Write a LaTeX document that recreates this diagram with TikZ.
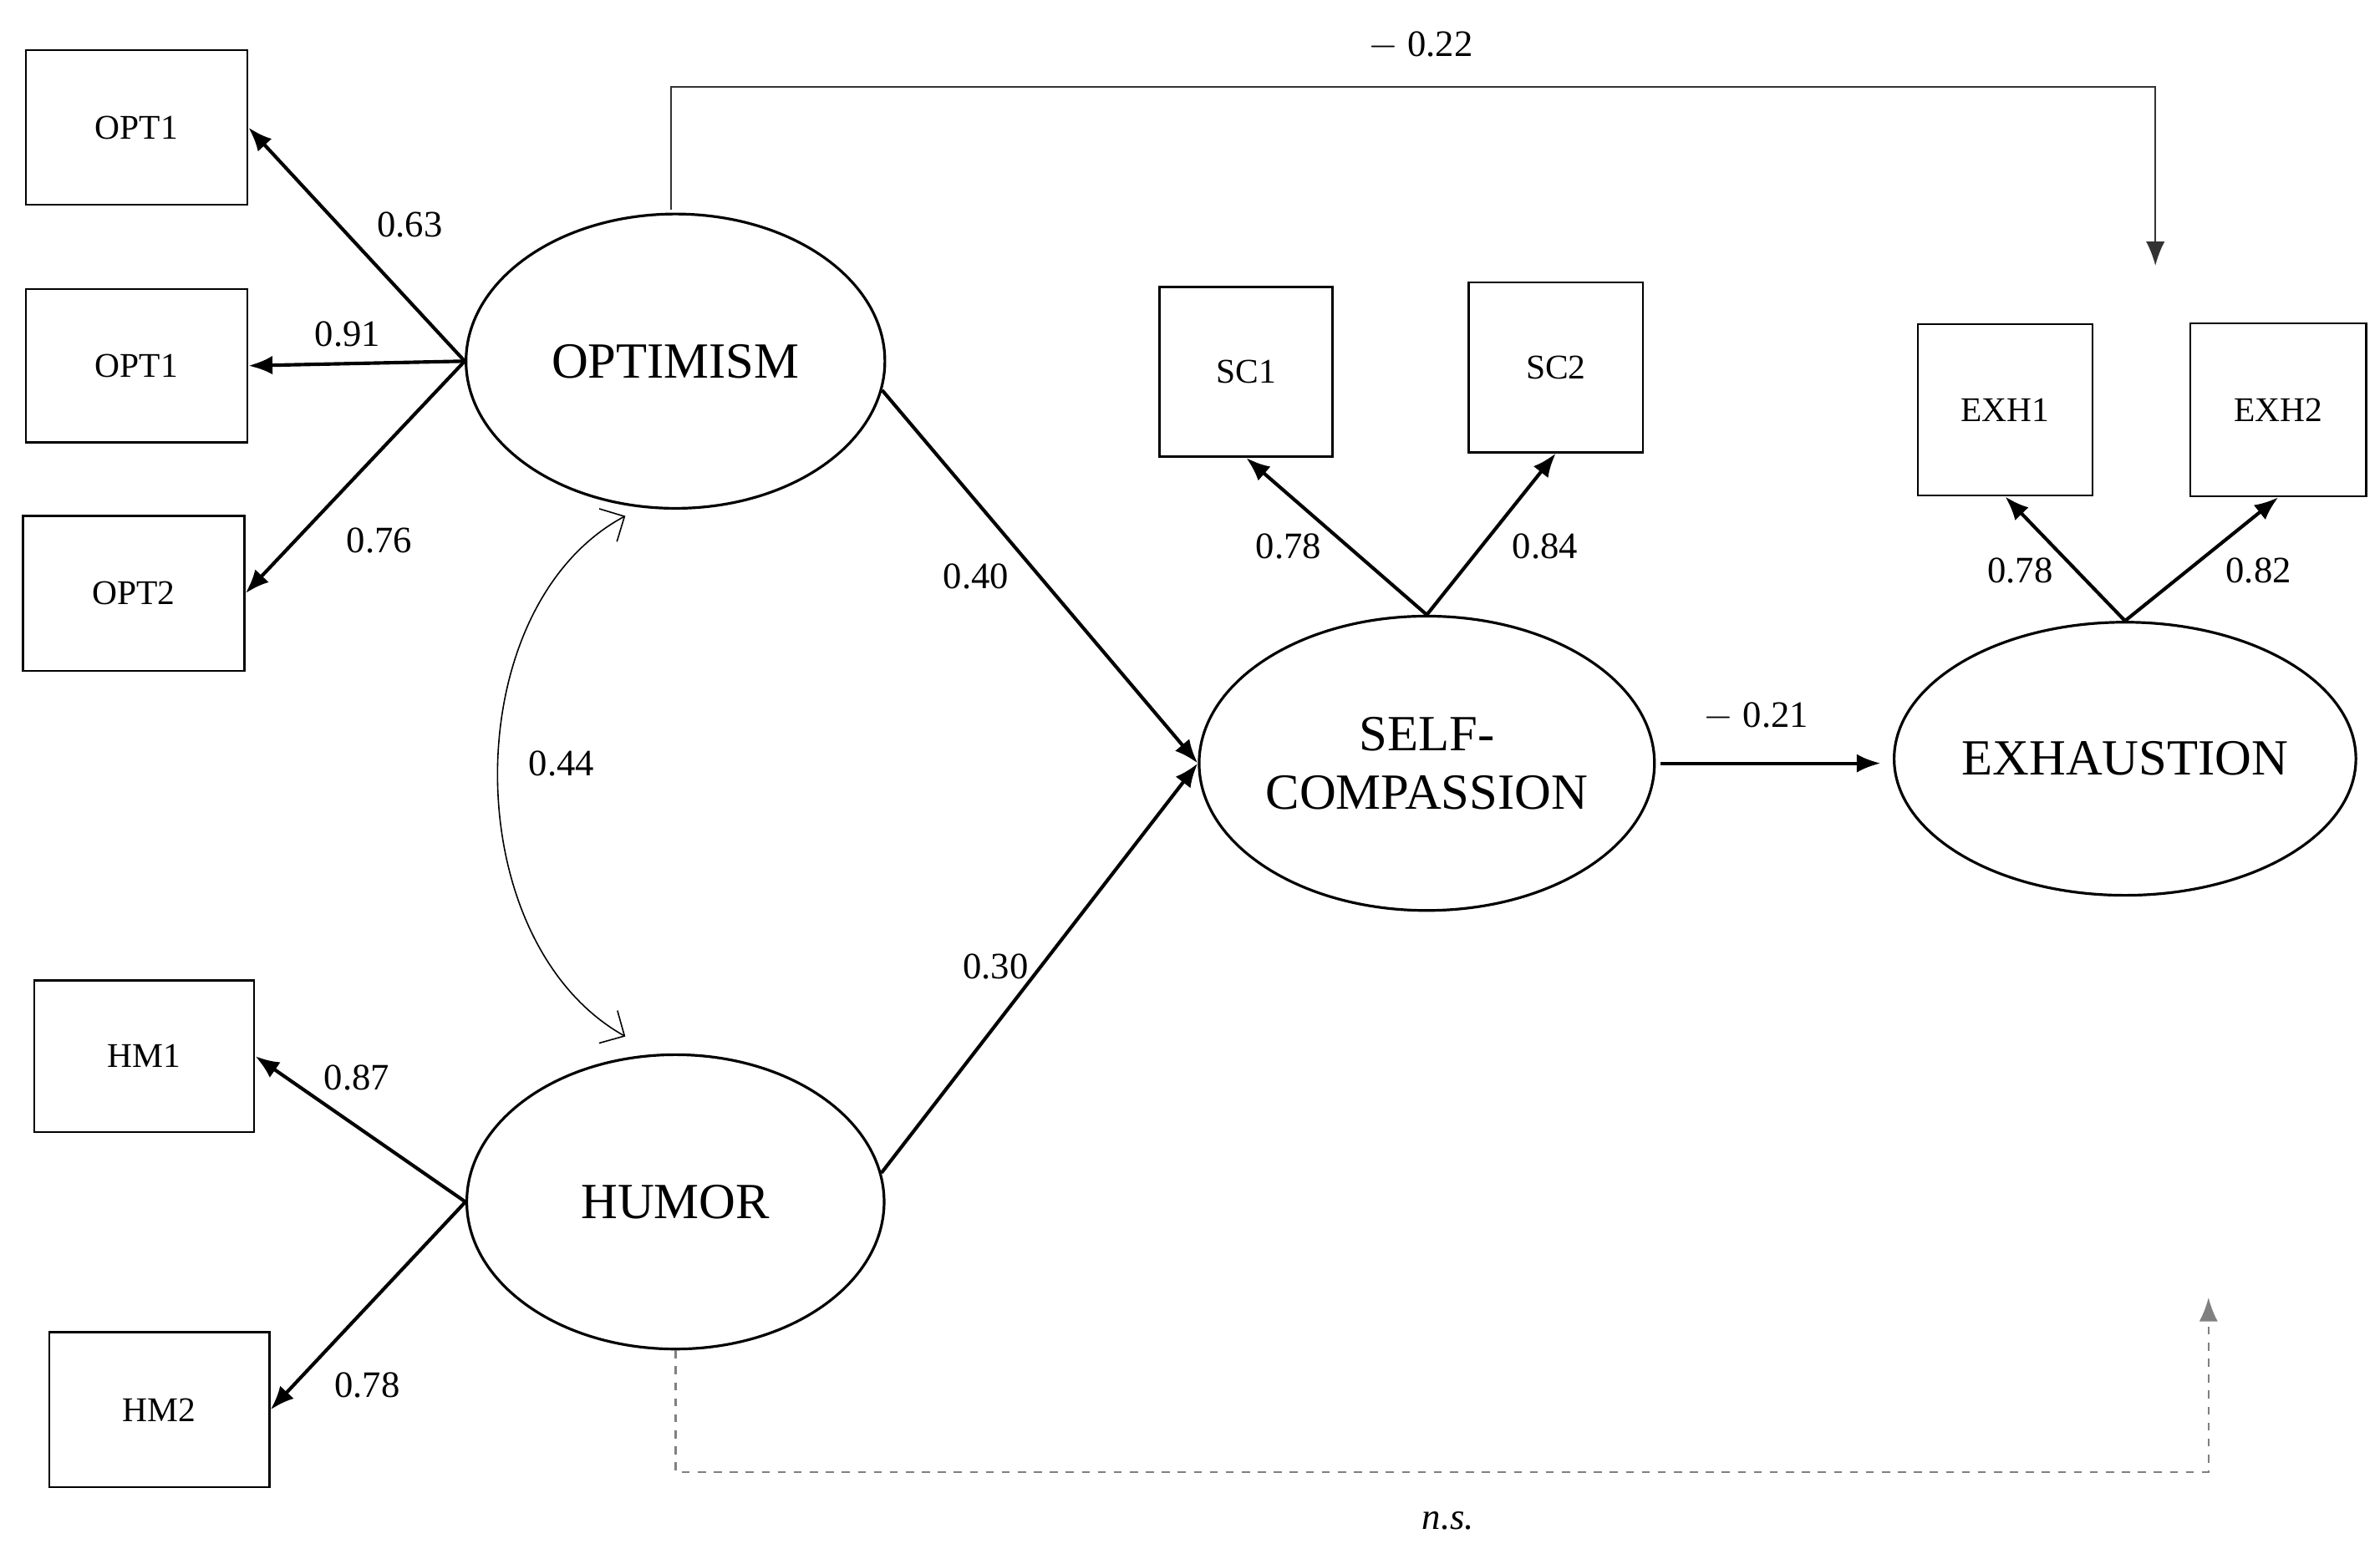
\documentclass[tikz,border=0pt]{standalone}
\usepackage{fontspec}
\setmainfont{Liberation Serif}
\usetikzlibrary{arrows.meta,shapes.geometric}
\begin{document}
\begin{tikzpicture}[x=0.02cm,y=-0.02cm,
  box/.style={draw,line width=0.8pt,inner sep=0pt,font=\fontsize{13}{15}\selectfont},
  lat/.style={draw,ellipse,line width=1pt,inner sep=0pt,font=\fontsize{19}{22}\selectfont,align=center},
  arr/.style={line width=1.3pt,-{Latex[length=9pt,width=7pt]}},
  lab/.style={font=\fontsize{14}{16}\selectfont}]
\useasboundingbox (0,0) rectangle (1568,1027);
\node[box,minimum width=2.92cm,minimum height=2.04cm] (o1) at (90,84) {OPT1};
\node[box,minimum width=2.92cm,minimum height=2.02cm] (o2) at (90,241) {OPT1};
\node[box,minimum width=2.92cm,minimum height=2.04cm] (o3) at (88,391) {OPT2};
\node[box,minimum width=2.9cm,minimum height=2.0cm] (h1) at (95,696) {HM1};
\node[box,minimum width=2.9cm,minimum height=2.04cm] (h2) at (105,929) {HM2};
\node[box,minimum width=2.28cm,minimum height=2.24cm] (s1) at (821,245) {SC1};
\node[box,minimum width=2.3cm,minimum height=2.24cm] (s2) at (1025,242) {SC2};
\node[box,minimum width=2.3cm,minimum height=2.26cm] (e1) at (1321,270) {EXH1};
\node[box,minimum width=2.32cm,minimum height=2.28cm] (e2) at (1501,270) {EXH2};
\node[lat,minimum width=5.52cm,minimum height=3.88cm] (opt) at (445,238) {OPTIMISM};
\node[lat,minimum width=5.5cm,minimum height=3.88cm] (hum) at (445,792) {HUMOR};
\node[lat,minimum width=6.0cm,minimum height=3.88cm] (sc) at (940,503) {SELF-\\COMPASSION};
\node[lat,minimum width=6.08cm,minimum height=3.6cm] (ex) at (1400,500) {EXHAUSTION};
\draw[arr] (opt.west) -- (o1.east);
\draw[arr] (opt.west) -- (o2.east);
\draw[arr] (opt.west) -- (o3.east);
\draw[arr] (hum.west) -- (h1.east);
\draw[arr] (hum.west) -- (h2.east);
\draw[arr] (sc.north) -- (s1.south);
\draw[arr] (sc.north) -- (s2.south);
\draw[arr] (ex.north) -- (e1.south);
\draw[arr] (ex.north) -- (e2.south);
\draw[arr] (opt.-8) -- (sc.west);
\draw[arr] (hum.8) -- (sc.west);
\draw[arr] ([xshift=0.06cm]sc.east) -- ([xshift=-0.16cm]sc.east -| ex.west);
\coordinate (t1) at (1420,175);
\draw[line width=0.6pt,black!80,-{Latex[length=9pt,width=7pt]}] (opt.north) ++(-3,-2) -- ++(0,-81) -| (t1);
\coordinate (t2) at (1455,855);
\draw[line width=0.8pt,gray,dashed,-{Latex[length=9pt,width=7pt]}] (hum.south) -- (445,970) -| (t2);
\coordinate (c1) at (412,340);
\coordinate (c2) at (412,683);
\draw[line width=0.5pt,{Straight Barb[length=7pt]}-{Straight Barb[length=7pt]}] (c1) .. controls (300,400) and (300,620) .. (c2);
\node[lab] at (270,148) {0.63};
\node[lab] at (229,220) {0.91};
\node[lab] at (250,356) {0.76};
\node[lab] at (235,710) {0.87};
\node[lab] at (242,913) {0.78};
\node[lab] at (643,380) {0.40};
\node[lab] at (656,637) {0.30};
\node[lab] at (849,360) {0.78};
\node[lab] at (1018,360) {0.84};
\node[lab] at (1331,376) {0.78};
\node[lab] at (1488,376) {0.82};
\node[lab] at (1157,472) {$-$ 0.21};
\node[lab] at (936,30) {$-$ 0.22};
\node[lab] at (370,503) {0.44};
\node[lab,font=\fontsize{14}{16}\selectfont\itshape] at (954,1002) {n.s.};
\end{tikzpicture}
\end{document}
